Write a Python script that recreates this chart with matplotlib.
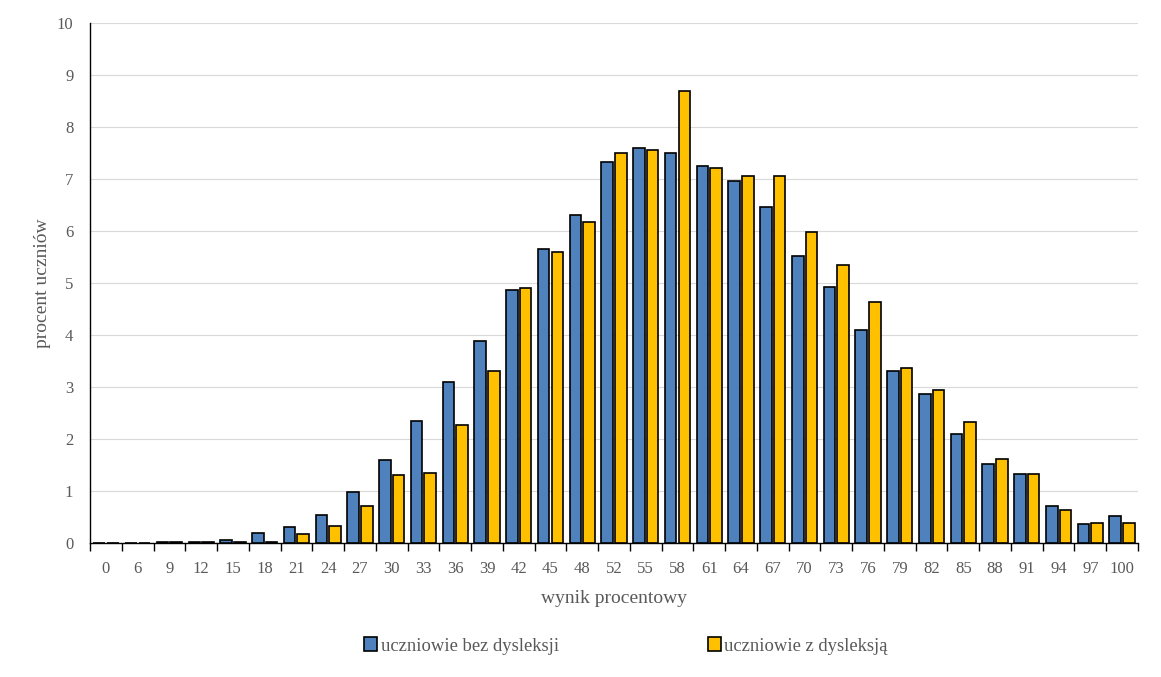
import matplotlib.pyplot as plt
import numpy as np

plt.rcParams['font.family'] = ['Liberation Serif', 'DejaVu Serif']

# dane
wyniki = ['0', '6', '9', '12', '15', '18', '21', '24', '27', '30', '33', '36', '39', '42', '45', '48',
          '52', '55', '58', '61', '64', '67', '70', '73', '76', '79', '82', '85', '88', '91', '94', '97', '100']
bez_dysleksji = [0, 0, 0.02, 0.02, 0.06, 0.2, 0.31, 0.54, 0.98, 1.6, 2.35, 3.1, 3.88, 4.87, 5.65, 6.3,
                 7.33, 7.6, 7.5, 7.25, 6.97, 6.47, 5.52, 4.92, 4.1, 3.3, 2.87, 2.1, 1.52, 1.33, 0.71, 0.36, 0.52]
z_dysleksja = [0, 0, 0.02, 0.02, 0.02, 0.02, 0.17, 0.33, 0.71, 1.3, 1.35, 2.27, 3.3, 4.9, 5.6, 6.17,
               7.5, 7.55, 8.7, 7.22, 7.05, 7.05, 5.98, 5.35, 4.63, 3.37, 2.95, 2.32, 1.62, 1.33, 0.63, 0.38, 0.38]

kolor_tekst = '#595959'

fig = plt.figure(figsize=(11.61, 6.77), dpi=100)
ax = fig.add_axes([90 / 1161, 1 - 543 / 677, (1138 - 90) / 1161, (543 - 23) / 677])

x = np.arange(len(wyniki))
w = 0.365
ax.bar(x - 0.215, bez_dysleksji, w, color='#4F81BD', edgecolor='black', linewidth=1.2,
       label='uczniowie bez dysleksji', zorder=3)
ax.bar(x + 0.215, z_dysleksja, w, color='#FFC000', edgecolor='black', linewidth=1.2,
       label='uczniowie z dysleksją', zorder=3)

ax.set_xlim(-0.5, len(wyniki) - 0.5)
ax.set_ylim(0, 10)
ax.set_yticks(range(0, 11))
ax.yaxis.grid(True, color='#D9D9D9', linewidth=0.8, zorder=0)
ax.set_axisbelow(True)

ax.set_xticks(x)
ax.set_xticklabels(wyniki)
ax.set_xticks(np.arange(-0.5, len(wyniki)), minor=True)
ax.tick_params(axis='x', which='major', length=0, pad=13, labelsize=12, labelcolor=kolor_tekst)
ax.tick_params(axis='x', which='minor', length=6, width=1, color='black', direction='out')
ax.tick_params(axis='y', length=0, pad=12, labelsize=12, labelcolor=kolor_tekst)

for s in ['top', 'right']:
    ax.spines[s].set_visible(False)
ax.spines['left'].set_color('black')
ax.spines['bottom'].set_color('black')
ax.spines['left'].set_linewidth(1)
ax.spines['bottom'].set_linewidth(1)

ax.set_xlabel('wynik procentowy', fontsize=14, color=kolor_tekst, labelpad=9)
ax.set_ylabel('procent uczniów', fontsize=14, color=kolor_tekst, labelpad=4)

fig.legend(loc='center', bbox_to_anchor=(0.539, 1 - 646 / 677), ncol=2, frameon=False,
           fontsize=13.4, labelcolor=kolor_tekst, handlelength=0.7, handleheight=0.7,
           handletextpad=0.2, columnspacing=8)

fig.savefig('out.png', dpi=100)
